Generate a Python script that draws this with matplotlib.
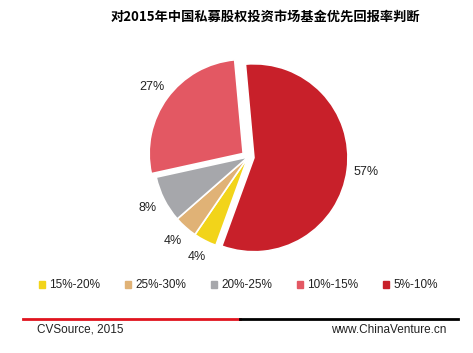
import matplotlib.pyplot as plt
from matplotlib.patches import Rectangle
from matplotlib.lines import Line2D

plt.rcParams['font.family'] = ['Liberation Sans', 'Noto Sans CJK SC', 'DejaVu Sans']

title = '对2015年中国私募股权投资市场基金优先回报率判断'
labels = ['15%-20%', '25%-30%', '20%-25%', '10%-15%', '5%-10%']
shares = [4, 4, 8, 27, 57]
colors = ['#F2D41A', '#E0B276', '#A6A7AB', '#E35863', '#C8202A']
explode = [0.0, 0.0, 0.0, 0.05, 0.05]

fig = plt.figure(figsize=(4.73, 3.53), dpi=100)
fig.patch.set_facecolor('white')

# canvas in pixel coords
ax = fig.add_axes([0.0, 0.0, 1.0, 1.0])
ax.set_xlim(0, 473)
ax.set_ylim(353, 0)
ax.axis('off')

# pie
pax = fig.add_axes([(248 - 120) / 473, 1 - (157 + 120) / 353, 240 / 473, 240 / 353])
wedges, texts, autotexts = pax.pie(
    shares, colors=colors, explode=explode, startangle=-110, counterclock=False,
    radius=94 / 120, autopct='%d%%', pctdistance=1.2,
    wedgeprops=dict(edgecolor='white', linewidth=1.2),
    textprops=dict(fontsize=9, color='#222222'))
pax.set_xlim(-1, 1)
pax.set_ylim(-1, 1)
pax.set_aspect('equal')

# title
fig.text(265 / 473, 1 - 17 / 353, title, ha='center', va='center',
         fontsize=9.5, fontweight='bold', family=['Noto Sans CJK SC', 'DejaVu Sans'])

# legend
leg_x = [42, 128, 214, 300, 386]
for x, lab, c in zip(leg_x, labels, colors):
    ax.add_patch(Rectangle((x - 3.5, 281), 6.5, 6.5, color=c))
    ax.text(x + 7, 284.5, lab, fontsize=8.5, va='center', ha='left', color='#222222')

# bottom rule and source
ax.add_line(Line2D([23, 240], [319, 319], color='#E0141E', linewidth=2))
ax.add_line(Line2D([240, 458], [319, 319], color='black', linewidth=2))
ax.text(37, 330, 'CVSource, 2015', fontsize=8.5, va='center', ha='left', color='#222222')
ax.text(446, 330, 'www.ChinaVenture.cn', fontsize=8.5, va='center', ha='right', color='#222222')

fig.savefig('out.png', dpi=100)
